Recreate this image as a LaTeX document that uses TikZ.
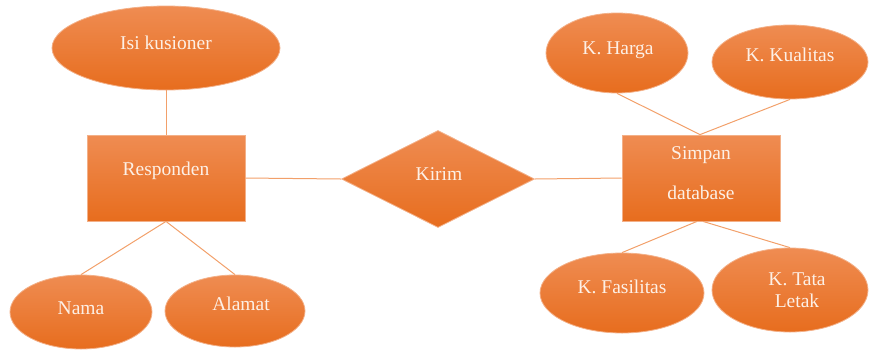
\documentclass[tikz,border=0pt]{standalone}
\usepackage{fontspec}
\setmainfont{Liberation Serif}
\usetikzlibrary{shapes.geometric}
\definecolor{orTop}{HTML}{EF8C52}
\definecolor{orBot}{HTML}{E76D1E}
\definecolor{orEdge}{HTML}{F3B088}
\definecolor{orLine}{HTML}{F2A06A}
\definecolor{txt}{HTML}{FDF0E6}
\begin{document}
\begin{tikzpicture}[x=1pt,y=-1pt,
  shapebase/.style={draw=orEdge, line width=0.8pt, top color=orTop, bottom color=orBot, inner sep=0pt},
  attr/.style={shapebase, ellipse},
  entity/.style={shapebase, rectangle},
  rel/.style={shapebase, diamond},
  lbl/.style={text=txt, font=\fontsize{19.5}{22}\selectfont, align=center, inner sep=0pt},
  conn/.style={draw=orLine, line width=1pt}]
\useasboundingbox (0,0) rectangle (872,349);

% entities and relationship
\node[entity, minimum width=158pt, minimum height=86pt] (resp) at (166,178) {};
\node[entity, minimum width=158pt, minimum height=86pt] (simpan) at (701,178) {};
\node[rel, minimum width=193pt, minimum height=97pt] (kirim) at (438,179) {};

% attributes
\node[attr, minimum width=228pt, minimum height=84pt] (isi) at (166,48) {};
\node[attr, minimum width=142pt, minimum height=74pt] (nama) at (81,312) {};
\node[attr, minimum width=140pt, minimum height=72pt] (alamat) at (235,311) {};
\node[attr, minimum width=142pt, minimum height=80pt] (harga) at (617,53) {};
\node[attr, minimum width=156pt, minimum height=74pt] (kualitas) at (790,62) {};
\node[attr, minimum width=164pt, minimum height=80pt] (fasilitas) at (622,293) {};
\node[attr, minimum width=156pt, minimum height=84pt] (tata) at (790,290) {};

% connectors
\draw[conn] (isi.south) -- (resp.north);
\draw[conn] (resp.south) -- (nama.north);
\draw[conn] (resp.south) -- (alamat.north);
\draw[conn] (resp.east) -- (kirim.west);
\draw[conn] (kirim.east) -- (simpan.west);
\draw[conn] ([xshift=-1pt]simpan.north) -- (harga.south);
\draw[conn] ([xshift=-1pt]simpan.north) -- (kualitas.south);
\draw[conn] ([xshift=-4pt]simpan.south) -- (fasilitas.north);
\draw[conn] ([xshift=2pt]simpan.south) -- (tata.north);

% labels
\node[lbl] (t-resp) at (166,171) {Responden};
\node[lbl] (t-simpan1) at (701,155) {Simpan};
\node[lbl] (t-simpan2) at (701,193) {database};
\node[lbl] (t-kirim) at (439,174) {Kirim};
\node[lbl] (t-isi) at (166,43) {Isi kusioner};
\node[lbl] (t-nama) at (81,308) {Nama};
\node[lbl] (t-alamat) at (241,304) {Alamat};
\node[lbl] (t-harga) at (618,50) {K. Harga};
\node[lbl] (t-kualitas) at (790,55) {K. Kualitas};
\node[lbl] (t-fasilitas) at (622,287) {K. Fasilitas};
\node[lbl] (t-tata) at (797,290) {K. Tata\\Letak};
\end{tikzpicture}
\end{document}
